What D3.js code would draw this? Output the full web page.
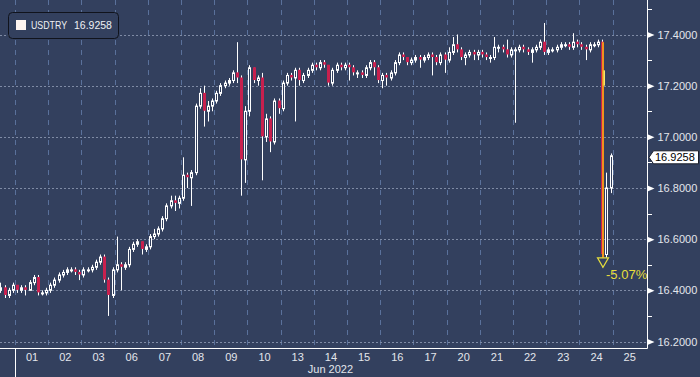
<!DOCTYPE html>
<html>
<head>
<meta charset="utf-8">
<script src="https://cdn.jsdelivr.net/npm/d3@7"></script>
<style>
  html, body { margin: 0; padding: 0; background: #33405e; }
  svg { display: block; font-family: "Liberation Sans", Arial, sans-serif; }
</style>
</head>
<body>
<svg id="chart" width="700" height="377"></svg>
<script>
// USDTRY, 2-hour style bars, 31 May - 24 Jun 2022
const dayLabels = ["01","02","03","06","07","08","09","10","13","14","15","16","17","20","21","22","23","24","25"];
const monthLabel = "Jun 2022";
const yTicks = [16.2, 16.4, 16.6, 16.8, 17.0, 17.2, 17.4];
const yMinorTicks = [16.3, 16.5, 16.7, 16.9, 17.1, 17.3, 17.5];
const barsPerDay = 8;
const firstSlot = -4;          // the last 4 bars of 31 May
const firstOpen = 16.40;

const closes = [
  16.41,16.38,16.40,16.42,
  16.40,16.41,16.40,16.43,16.45,16.39,16.39,16.40,
  16.42,16.44,16.46,16.47,16.48,16.48,16.47,16.46,
  16.48,16.48,16.49,16.51,16.53,16.44,16.38,16.48,
  16.50,16.49,16.50,16.56,16.58,16.59,16.56,16.57,
  16.61,16.62,16.64,16.68,16.73,16.75,16.74,16.76,
  16.85,16.84,16.86,17.12,17.17,17.10,17.12,17.14,
  17.17,17.20,17.21,17.22,17.25,17.23,16.91,17.10,
  17.27,17.22,17.23,17.00,17.07,16.98,17.14,17.11,
  17.21,17.24,17.23,17.26,17.22,17.24,17.26,17.28,
  17.27,17.29,17.28,17.21,17.26,17.28,17.27,17.28,
  17.27,17.25,17.25,17.24,17.27,17.29,17.27,17.22,
  17.24,17.23,17.25,17.29,17.32,17.31,17.29,17.30,
  17.31,17.30,17.31,17.32,17.31,17.29,17.32,17.30,
  17.33,17.36,17.34,17.31,17.32,17.33,17.32,17.33,
  17.32,17.31,17.31,17.35,17.35,17.34,17.32,17.34,
  17.34,17.35,17.34,17.33,17.34,17.35,17.37,17.33,
  17.34,17.34,17.35,17.36,17.36,17.35,17.37,17.36,
  17.35,17.34,17.36,17.36,17.37,16.54,16.80,16.9258
];
const highs = [
  16.43,16.42,16.41,16.43,
  16.42,16.42,16.42,16.44,16.46,16.46,16.40,16.41,
  16.43,16.45,16.47,16.48,16.49,16.49,16.49,16.48,
  16.49,16.49,16.50,16.52,16.54,16.54,16.45,16.49,
  16.61,16.51,16.51,16.57,16.59,16.60,16.59,16.58,
  16.62,16.64,16.65,16.69,16.74,16.77,16.77,16.77,
  16.92,16.86,16.87,17.13,17.19,17.20,17.14,17.15,
  17.18,17.21,17.22,17.23,17.26,17.37,17.24,17.12,
  17.28,17.27,17.24,17.25,17.09,17.08,17.15,17.15,
  17.22,17.25,17.25,17.27,17.27,17.25,17.27,17.29,
  17.29,17.30,17.30,17.28,17.27,17.29,17.29,17.29,
  17.29,17.28,17.26,17.26,17.28,17.30,17.30,17.28,
  17.25,17.25,17.26,17.30,17.33,17.33,17.31,17.31,
  17.32,17.32,17.32,17.33,17.33,17.32,17.33,17.33,
  17.35,17.39,17.40,17.35,17.33,17.34,17.34,17.34,
  17.34,17.33,17.32,17.39,17.36,17.36,17.38,17.35,
  17.35,17.36,17.36,17.35,17.35,17.36,17.38,17.445,
  17.35,17.35,17.36,17.37,17.37,17.37,17.405,17.38,
  17.37,17.36,17.37,17.37,17.38,17.38,16.86,16.935
];
const lows = [
  16.39,16.37,16.37,16.39,
  16.39,16.39,16.38,16.40,16.42,16.38,16.38,16.38,
  16.39,16.41,16.43,16.45,16.46,16.47,16.46,16.44,
  16.45,16.47,16.47,16.48,16.50,16.43,16.30,16.37,
  16.47,16.40,16.48,16.49,16.55,16.57,16.54,16.55,
  16.56,16.60,16.61,16.63,16.67,16.72,16.71,16.72,
  16.75,16.80,16.73,16.85,17.11,17.04,17.06,17.10,
  17.13,17.16,17.19,17.20,17.21,17.21,16.77,16.82,
  17.08,17.21,17.20,16.83,16.98,16.94,16.97,17.09,
  17.10,17.20,17.22,17.06,17.20,17.21,17.23,17.25,
  17.26,17.26,17.27,17.20,17.20,17.25,17.26,17.26,
  17.22,17.24,17.23,17.23,17.23,17.26,17.24,17.21,
  17.19,17.20,17.22,17.24,17.28,17.30,17.28,17.28,
  17.29,17.27,17.29,17.30,17.24,17.28,17.28,17.25,
  17.29,17.32,17.33,17.30,17.28,17.31,17.30,17.30,
  17.31,17.30,17.29,17.30,17.33,17.33,17.31,17.31,
  17.055,17.33,17.33,17.32,17.29,17.33,17.34,17.32,
  17.32,17.33,17.33,17.34,17.35,17.34,17.34,17.35,
  17.34,17.30,17.33,17.35,17.35,16.49,16.52,16.78
];

// annotation of the 24 Jun drop
const moveFrom = 17.37, moveTo = 16.49, moveLabel = "-5.07%";
const moveHighlight = [17.26, 17.20];
const lastLabel = "16.9258";
const seriesName = "USDTRY";

const W = 700, H = 377;
const plotRight = 647, plotBottom = 348;
const bg = "#33405e", red = "#c8204e", white = "#ffffff";

const svg = d3.select("#chart");
svg.append("rect").attr("width", W).attr("height", H).attr("fill", bg);

const x = d3.scaleLinear().domain([0, 19]).range([15, 645.8]);
const y = d3.scaleLinear().domain([16.2, 17.4]).range([341.5, 34.5]);

// bars
const bars = closes.map((c, i) => {
  const slot = firstSlot + i;
  return {
    x: x((slot + 0.5) / barsPerDay),
    o: i === 0 ? firstOpen : closes[i - 1],
    c: c, h: highs[i], l: lows[i]
  };
});

svg.append("clipPath").attr("id", "plotclip")
  .append("rect").attr("x", 0).attr("y", 0).attr("width", plotRight).attr("height", plotBottom);

// grid
const grid = svg.append("g");
grid.selectAll(".vg").data(d3.range(0, 19)).join("line")
  .attr("x1", d => Math.round(x(d)) + 0.5).attr("x2", d => Math.round(x(d)) + 0.5)
  .attr("y1", 0).attr("y2", plotBottom)
  .attr("stroke", "#5a719b").attr("stroke-dasharray", "5,5");
grid.selectAll(".hg").data(yTicks).join("line")
  .attr("x1", 0).attr("x2", plotRight)
  .attr("y1", d => Math.round(y(d)) + 0.5).attr("y2", d => Math.round(y(d)) + 0.5)
  .attr("stroke", "#7f8ba5").attr("stroke-dasharray", "2,2");

// candles
const cg = svg.append("g").attr("clip-path", "url(#plotclip)");
const bx = d => Math.round(d.x);
cg.selectAll(".wick").data(bars).join("line")
  .attr("x1", d => bx(d) + 0.5).attr("x2", d => bx(d) + 0.5)
  .attr("y1", d => y(d.h)).attr("y2", d => y(d.l))
  .attr("stroke", white).attr("stroke-width", 1);
cg.selectAll(".body").data(bars).join("rect")
  .attr("x", d => d.c >= d.o ? bx(d) - 0.5 : bx(d) - 1)
  .attr("width", d => d.c >= d.o ? 2 : 3)
  .attr("y", d => d.c >= d.o ? Math.min(y(d.o), y(d.c)) : Math.min(y(d.o), y(d.c)) - 0.5)
  .attr("height", d => Math.max(1, Math.abs(y(d.o) - y(d.c))))
  .attr("fill", d => d.c >= d.o ? bg : red)
  .attr("stroke", d => d.c >= d.o ? white : "none")
  .attr("stroke-width", 1);

// drop annotation
const dropBar = bars[bars.length - 3];
const ax = Math.round(dropBar.x) + 1;
svg.append("line")
  .attr("x1", ax).attr("x2", ax)
  .attr("y1", y(moveFrom)).attr("y2", y(moveTo) - 9)
  .attr("stroke", "#f0921c").attr("stroke-width", 2);
svg.append("rect")
  .attr("x", ax + 0.5).attr("width", 1.5)
  .attr("y", y(moveHighlight[0])).attr("height", y(moveHighlight[1]) - y(moveHighlight[0]))
  .attr("fill", "#f4e86a");
svg.append("path")
  .attr("d", `M${ax - 5.5},${y(moveTo) - 9.5} L${ax + 5.5},${y(moveTo) - 9.5} L${ax},${y(moveTo)} Z`)
  .attr("fill", bg).attr("stroke", "#e6de3c").attr("stroke-width", 1.2);
svg.append("text")
  .attr("x", ax + 3).attr("y", y(moveTo) + 12)
  .attr("fill", "#e6de3c").attr("font-size", 13).text(moveLabel);

// axes frame
svg.append("line").attr("x1", plotRight + 0.5).attr("x2", plotRight + 0.5)
  .attr("y1", 0).attr("y2", plotBottom + 0.5).attr("stroke", white);
svg.append("line").attr("x1", 0).attr("x2", plotRight + 0.5)
  .attr("y1", plotBottom + 0.5).attr("y2", plotBottom + 0.5).attr("stroke", white);
svg.append("line").attr("x1", 15.5).attr("x2", 15.5)
  .attr("y1", plotBottom).attr("y2", H).attr("stroke", white);

// y axis
const yAxis = svg.append("g")
  .attr("transform", `translate(${plotRight + 0.5},0)`)
  .call(d3.axisRight(y).tickValues(yTicks).tickFormat(d3.format(".4f")).tickSize(0).tickPadding(10));
yAxis.select(".domain").remove();
yAxis.selectAll("text").attr("fill", "#e3e6ec").attr("font-size", 11)
  .attr("font-family", "Liberation Sans, Arial, sans-serif");
yAxis.selectAll(".tick").append("path")
  .attr("d", "M0,-3 L7,0 L0,3 Z").attr("fill", white);
svg.append("g").selectAll("line").data(yMinorTicks).join("line")
  .attr("x1", plotRight).attr("x2", plotRight + 5)
  .attr("y1", d => Math.round(y(d)) + 0.5).attr("y2", d => Math.round(y(d)) + 0.5)
  .attr("stroke", white);

// x axis
const xAxis = svg.append("g")
  .attr("transform", `translate(0,${plotBottom})`)
  .call(d3.axisBottom(x).tickValues(dayLabels.map((d, i) => i + 0.5))
    .tickFormat(d => dayLabels[Math.floor(d)]).tickSize(0).tickPadding(5));
xAxis.select(".domain").remove();
xAxis.selectAll("text").attr("fill", "#e3e6ec").attr("font-size", 11)
  .attr("font-family", "Liberation Sans, Arial, sans-serif");
svg.append("text").attr("x", (x(0) + x(19)) / 2).attr("y", 373)
  .attr("text-anchor", "middle").attr("fill", "#e3e6ec").attr("font-size", 11)
  .text(monthLabel);

// last price tag
const ly = y(closes[closes.length - 1]) + 1.5;
svg.append("path")
  .attr("d", `M649,${ly} L653.5,${ly - 6.5} L698.5,${ly - 6.5} L698.5,${ly + 6.5} L653.5,${ly + 6.5} Z`)
  .attr("fill", white).attr("stroke", "#1b1f2a");
svg.append("text").attr("x", 655).attr("y", ly).attr("dy", "0.35em")
  .attr("fill", "#000").attr("font-size", 11).text(lastLabel);

// legend
svg.append("rect").attr("x", 8.5).attr("y", 12.5).attr("width", 110).attr("height", 26)
  .attr("rx", 4).attr("fill", bg).attr("stroke", "#10131c");
svg.append("rect").attr("x", 16).attr("y", 20).attr("width", 10).attr("height", 10).attr("fill", "#fdf4f0");
svg.append("text").attr("x", 31).attr("y", 25).attr("dy", "0.35em")
  .attr("fill", "#eef0f4").attr("font-size", 10.5)
  .attr("textLength", 36).attr("lengthAdjust", "spacingAndGlyphs").text(seriesName);
svg.append("text").attr("x", 74).attr("y", 25).attr("dy", "0.35em")
  .attr("fill", "#eef0f4").attr("font-size", 10.5).text(lastLabel);
</script>
</body>
</html>
